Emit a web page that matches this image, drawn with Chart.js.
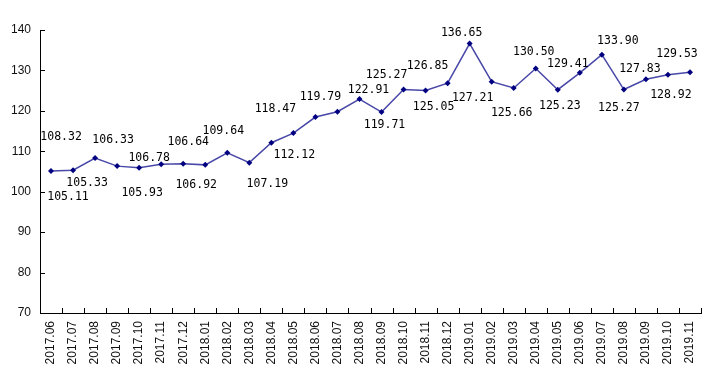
<!DOCTYPE html>
<html>
<head>
<meta charset="utf-8">
<script src="https://cdn.jsdelivr.net/npm/chart.js@4/dist/chart.umd.min.js"></script>
<style>
  html, body { margin: 0; padding: 0; background: #fff; }
  #wrap { width: 727px; height: 384px; }
</style>
</head>
<body>
<div id="wrap"><canvas id="c" width="727" height="384"></canvas></div>
<script>
// ---- data ----
const months = ['2017.06','2017.07','2017.08','2017.09','2017.10','2017.11','2017.12',
  '2018.01','2018.02','2018.03','2018.04','2018.05','2018.06','2018.07','2018.08','2018.09','2018.10','2018.11','2018.12',
  '2019.01','2019.02','2019.03','2019.04','2019.05','2019.06','2019.07','2019.08','2019.09','2019.10','2019.11'];
const values = [105.11,105.33,108.32,106.33,105.93,106.78,106.92,
  106.64,109.64,107.19,112.12,114.5,118.47,119.79,122.91,119.71,125.27,125.05,126.85,
  136.65,127.21,125.66,130.50,125.23,129.41,133.90,125.27,127.83,128.92,129.53];
const labelTexts = ['105.11','105.33','108.32','106.33','105.93','106.78','106.92',
  '106.64','109.64','107.19','112.12',null,'118.47','119.79','122.91','119.71','125.27','125.05','126.85',
  '136.65','127.21','125.66','130.50','125.23','129.41','133.90','125.27','127.83','128.92','129.53'];
const yTicks = [70, 80, 90, 100, 110, 120, 130, 140];

// ---- label placement (style, offsets in px from each point) ----
const labelOffsets = [[17,26],[14,13],[-34,-21],[-4,-26],[3,25],[-12,-6],[13,21],
  [-17,-23],[-4,-22],[18,21],[23,12],null,[-40,-8],[-17,-15],[9,-9],[3,13],[-17,-15],[8,17],[-20,-17],
  [-8,-11],[-19,16],[-2,25],[-2,-16],[2,16],[-12,-9],[16,-14],[-5,18],[-6,-10],[3,20],[-13,-18]];

const insideTicks = {
  id: 'insideTicks',
  afterDraw(chart) {
    const ctx = chart.ctx, xs = chart.scales.x, ys = chart.scales.y;
    ctx.save();
    ctx.strokeStyle = '#000';
    ctx.lineWidth = 1;
    ctx.beginPath();
    ys.ticks.forEach((t, i) => {
      const py = Math.round(ys.getPixelForTick(i)) + 0.5;
      ctx.moveTo(ys.right, py); ctx.lineTo(ys.right + 5, py);
    });
    for (let i = 1; i <= xs.ticks.length; i++) {
      const px = Math.round(xs.getPixelForValue(i - 0.5)) + 0.5;
      ctx.moveTo(px, xs.top); ctx.lineTo(px, xs.top - 5);
    }
    ctx.stroke();
    ctx.restore();
  }
};

const pointLabels = {
  id: 'pointLabels',
  afterDatasetsDraw(chart) {
    const ctx = chart.ctx;
    const meta = chart.getDatasetMeta(0);
    ctx.save();
    ctx.font = '11.5px "DejaVu Sans Mono"';
    ctx.fillStyle = '#000';
    ctx.textAlign = 'center';
    ctx.textBaseline = 'middle';
    meta.data.forEach((pt, i) => {
      const txt = labelTexts[i], off = labelOffsets[i];
      if (!txt || !off) return;
      ctx.fillText(txt, pt.x + off[0], pt.y + off[1]);
    });
    ctx.restore();
  }
};

new Chart(document.getElementById('c'), {
  type: 'line',
  data: {
    labels: months,
    datasets: [{
      data: values,
      borderColor: '#4848a8',
      borderWidth: 1.5,
      pointStyle: 'rectRot',
      pointRadius: 3,
      pointBackgroundColor: '#000080',
      pointBorderColor: '#000080',
      pointBorderWidth: 0,
      tension: 0,
      clip: false
    }]
  },
  options: {
    responsive: false,
    devicePixelRatio: 1,
    animation: false,
    layout: { padding: { top: 30, right: 26, left: 0, bottom: 0 } },
    plugins: { legend: { display: false }, tooltip: { enabled: false } },
    scales: {
      x: {
        type: 'category',
        offset: true,
        grid: { display: false, drawTicks: false },
        border: { display: true, color: '#000', width: 1 },
        ticks: {
          autoSkip: false, minRotation: 90, maxRotation: 90, padding: 8,
          color: '#111', font: { family: '"Liberation Sans", Arial', size: 12 }
        },
        afterFit(s) { s.height = 71; }
      },
      y: {
        min: 70, max: 140,
        afterBuildTicks(s) { s.ticks = yTicks.map(v => ({ value: v })); },
        grid: { display: false, drawTicks: false },
        border: { display: true, color: '#000', width: 1 },
        ticks: {
          padding: 9, color: '#111',
          font: { family: '"Liberation Sans", Arial', size: 12 }
        },
        afterFit(s) { s.width = 40; }
      }
    }
  },
  plugins: [insideTicks, pointLabels]
});
</script>
</body>
</html>
